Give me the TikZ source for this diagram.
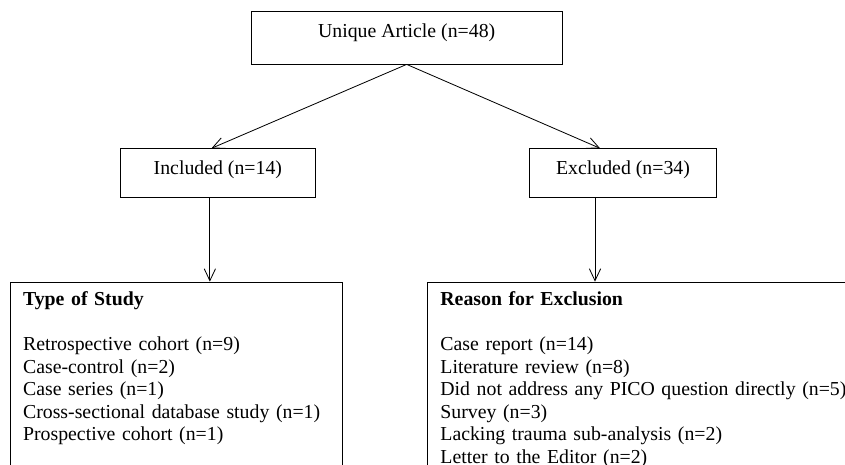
\documentclass[tikz,border=0pt]{standalone}
\usepackage{fontspec}
\setmainfont{Liberation Serif}
\usepackage{tikz}
\usetikzlibrary{arrows.meta, positioning}

\begin{document}
\begin{tikzpicture}[>={Straight Barb[length=3.6mm,width=3.4mm]}, line width=0.7pt]

% Stili per i riquadri
\tikzset{box/.style={draw, inner ysep=0pt, font=\fontsize{16.9pt}{19.3pt}\selectfont},
         listbox/.style={draw, anchor=north west, inner xsep=0.38cm, inner ysep=0.28cm, align=left,
           text depth=6cm, font=\fontsize{16.9pt}{19.3pt}\selectfont}}

\useasboundingbox (0,0) rectangle (25.35,13.95);
\clip (0,0) rectangle (25.35,13.95);

% --- Parte superiore ---
\node[box, minimum width=9.34cm, text height=0.795cm, text depth=0.795cm] (art) at (12.2,12.825) {Unique Article (n=48)};

% Incluse / escluse
\node[box, minimum width=5.83cm, text height=0.783cm, text depth=0.675cm] (inc) at (6.536,8.76) {Included (n=14)};
\node[box, minimum width=5.63cm, text height=0.783cm, text depth=0.675cm] (exc) at (18.69,8.76) {Excluded (n=34)};

\draw[->] (art.south) -- ([xshift=-0.19cm]inc.north);
\draw[->] (art.south) -- ([xshift=-0.69cm]exc.north);

% --- Parte inferiore: elenchi ---
\node[listbox, text width=9.19cm] (study) at (0.3,5.5) {\textbf{Type of Study}\\[0.678cm]
  Retrospective cohort (n=9)\\
  Case-control (n=2)\\
  Case series (n=1)\\
  Cross-sectional database study (n=1)\\
  Prospective cohort (n=1)};
\node[listbox, text width=14cm] (reason) at (12.82,5.5) {\textbf{Reason for Exclusion}\\[0.678cm]
  Case report (n=14)\\
  Literature review (n=8)\\
  Did not address any PICO question directly (n=5)\\
  Survey (n=3)\\
  Lacking trauma sub-analysis (n=2)\\
  Letter to the Editor (n=2)};

% Frecce verso il basso
\draw[->] ([xshift=-0.24cm]inc.south) -- ([xshift=-0.24cm]inc.south |- study.north);
\draw[->] ([xshift=-0.84cm]exc.south) -- ([xshift=-0.84cm]exc.south |- reason.north);

\end{tikzpicture}
\end{document}
